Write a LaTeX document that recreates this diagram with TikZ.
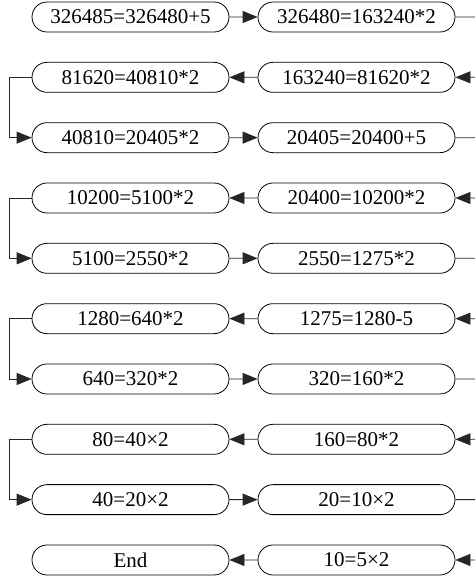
\documentclass[tikz,border=0pt]{standalone}
\usepackage{fontspec}
\setmainfont{Liberation Serif}
\usetikzlibrary{shapes.misc,arrows.meta}
\begin{document}
\begin{tikzpicture}[x=1pt,y=-1pt,
  box/.style={draw=black, line width=0.8pt, rounded rectangle, rounded rectangle arc length=180,
    minimum width=197pt, minimum height=30pt, inner sep=0pt,
    font=\fontsize{21}{24}\selectfont},
  conn/.style={draw=black!85, line width=0.8pt},
  arr/.style={conn, -{Triangle[length=15pt,width=12pt]}}]
\useasboundingbox (0,0) rectangle (475,581);
\def\dy{60.33}
% nodes
\foreach \i/\lt/\rt in {0/326485=326480+5/326480=163240*2,
  1/81620=40810*2/163240=81620*2,
  2/40810=20405*2/20405=20400+5,
  3/10200=5100*2/20400=10200*2,
  4/5100=2550*2/2550=1275*2,
  5/1280=640*2/1275=1280-5,
  6/640=320*2/320=160*2,
  7/80=40×2/160=80*2,
  8/40=20×2/20=10×2,
  9/End/10=5×2}{
  \node[box] (L\i) at (130.5,17+\i*\dy) {\lt};
  \node[box] (R\i) at (356.5,17+\i*\dy) {\rt};
  \coordinate (E\i) at (475,17+\i*\dy);
}
% rightward rows
\foreach \i in {0,2,4,6,8}{
  \draw[arr] (L\i) -- (R\i);
  \draw[conn] (R\i) -- (E\i);
}
% leftward rows
\foreach \i in {1,3,5,7,9}{
  \draw[arr] (E\i) -- (R\i);
  \draw[arr] (R\i) -- (L\i);
}
% left loops
\foreach \i/\j in {1/2,3/4,5/6,7/8}{
  \draw[arr] (L\i.west) -- ++(-22,0) |- (L\j.west);
}
\end{tikzpicture}
\end{document}
